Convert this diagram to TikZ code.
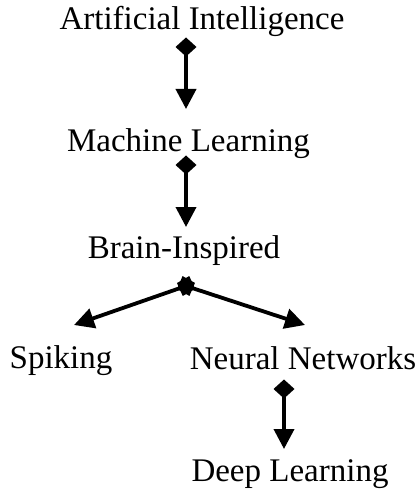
\documentclass[tikz,border=0pt]{standalone}
\usepackage{fontspec}
\setmainfont{Liberation Serif}
\usetikzlibrary{arrows.meta}

\begin{document}
\begin{tikzpicture}[x=1pt,y=-1pt,
  label/.style={inner sep=0pt,anchor=base,font=\fontsize{33}{36}\selectfont},
  link/.style={line width=3.8pt,
    {Diamond[length=19pt,width=21pt]}-{Triangle[length=20pt,width=20pt]},
    shorten <=-9.5pt}]
  \useasboundingbox[fill=white] (0,0) rectangle (418,489);

  % concept labels (placed at their baselines)
  \node[label] (ai)    at (202,30)  {Artificial Intelligence};
  \node[label] (ml)    at (188.5,152) {Machine Learning};
  \node[label] (bi)    at (184,258) {Brain-Inspired};
  \node[label] (spk)   at (61,368)  {Spiking};
  \node[label] (nn)    at (303,369) {Neural Networks};
  \node[label] (dl)    at (290,481) {Deep Learning};

  % connector end points
  \coordinate (ai-out) at (186,47);
  \coordinate (ml-in)  at (186,109);
  \coordinate (ml-out) at (186,165);
  \coordinate (bi-in)  at (186,227);
  \coordinate (bi-out) at (186,286);
  \coordinate (spk-in) at (74,325);
  \coordinate (nn-in)  at (305,325);
  \coordinate (nn-out) at (284,389);
  \coordinate (dl-in)  at (284,449);

  \draw[link] (ai-out) -- (ml-in);
  \draw[link] (ml-out) -- (bi-in);
  \draw[link] (bi-out) -- (spk-in);
  \draw[link] (bi-out) -- (nn-in);
  \draw[link] (nn-out) -- (dl-in);
\end{tikzpicture}
\end{document}
